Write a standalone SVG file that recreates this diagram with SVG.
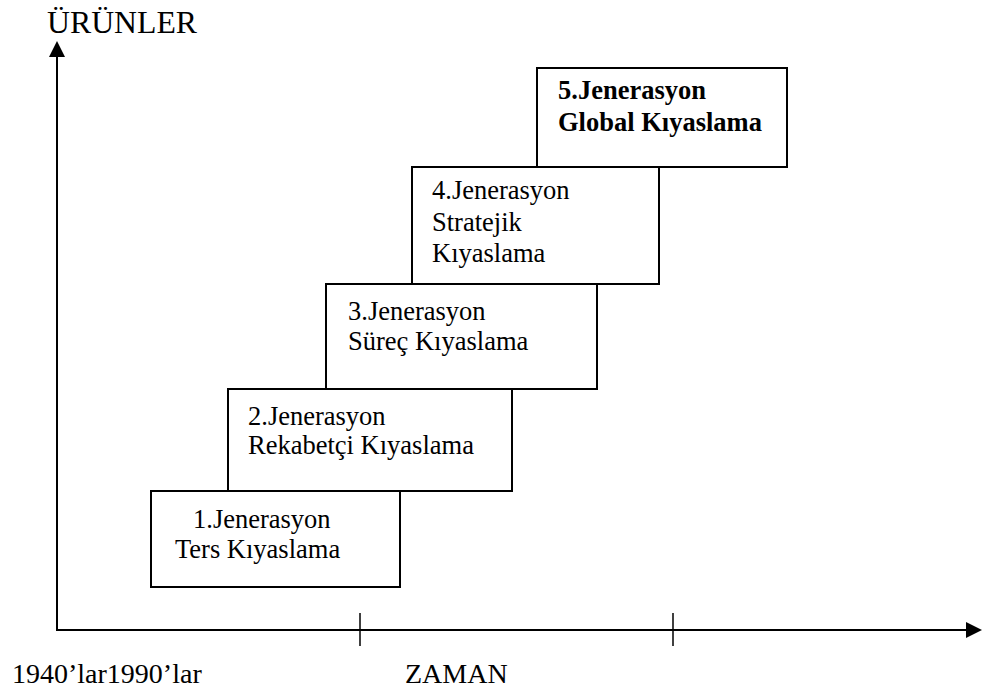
<svg xmlns="http://www.w3.org/2000/svg" width="982" height="691" viewBox="0 0 982 691">
<style>
  .box { fill: #ffffff; stroke: #000000; stroke-width: 2; }
  .ax { stroke: #000000; stroke-width: 2; fill: none; }
  .tick { stroke: #000000; stroke-width: 1.5; }
  text { font-family: "Liberation Serif", "Times New Roman", serif; fill: #000000; }
  .t { font-size: 26.5px; }
  .b { font-size: 26.5px; font-weight: bold; }
  .lbl { font-size: 28px; }
  .ttl { font-size: 31px; }
</style>
<defs>
  <marker id="arr" markerWidth="16" markerHeight="16" refX="14" refY="8" orient="auto" markerUnits="userSpaceOnUse">
    <path d="M0,0 L16,8 L0,16 Z" fill="#000000"/>
  </marker>
</defs>
<g id="connectors">
  <line class="ax" x1="57" y1="631" x2="57" y2="43" marker-end="url(#arr)"/>
  <line class="ax" x1="56" y1="630" x2="980" y2="630" marker-end="url(#arr)"/>
  <line class="tick" x1="360" y1="613" x2="360" y2="646"/>
  <line class="tick" x1="673" y1="613" x2="673" y2="646"/>
</g>
<g id="box5">
  <rect class="box" x="537" y="68" width="250" height="99"/>
  <text class="b" x="558" y="99">5.Jenerasyon</text>
  <text class="b" x="558" y="131">Global Kıyaslama</text>
</g>
<g id="box4">
  <rect class="box" x="412" y="167" width="247" height="117"/>
  <text class="t" x="432" y="199">4.Jenerasyon</text>
  <text class="t" x="432" y="231">Stratejik</text>
  <text class="t" x="432" y="262">Kıyaslama</text>
</g>
<g id="box3">
  <rect class="box" x="326" y="284" width="271" height="105"/>
  <text class="t" x="348" y="320">3.Jenerasyon</text>
  <text class="t" x="348" y="350">Süreç Kıyaslama</text>
</g>
<g id="box2">
  <rect class="box" x="228" y="389" width="284" height="102"/>
  <text class="t" x="248" y="425">2.Jenerasyon</text>
  <text class="t" x="248" y="454">Rekabetçi Kıyaslama</text>
</g>
<g id="box1">
  <rect class="box" x="151" y="491" width="249" height="96"/>
  <text class="t" x="193" y="528">1.Jenerasyon</text>
  <text class="t" x="175" y="558">Ters Kıyaslama</text>
</g>
<g id="labels">
  <text class="ttl" x="47" y="33" textLength="150" lengthAdjust="spacingAndGlyphs">ÜRÜNLER</text>
  <text class="lbl" x="12" y="683">1940’lar1990’lar</text>
  <text class="lbl" x="405" y="683">ZAMAN</text>
</g>
</svg>
